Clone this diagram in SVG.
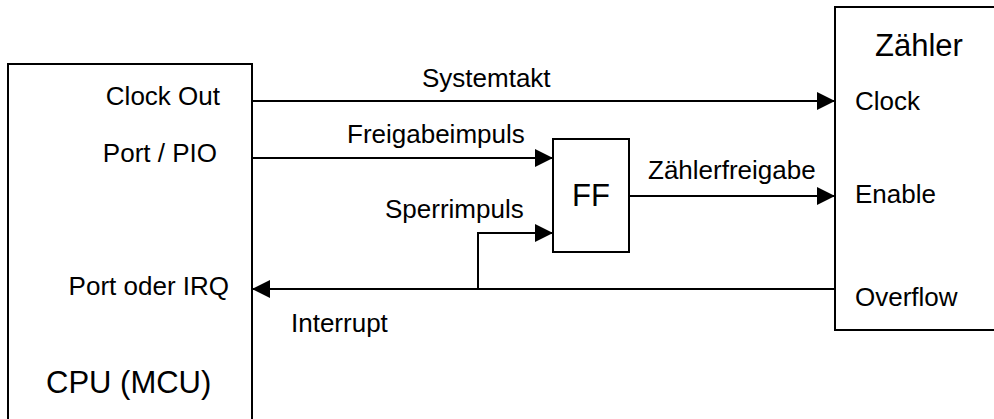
<svg xmlns="http://www.w3.org/2000/svg" width="994" height="419" viewBox="0 0 994 419">
<style>
.box{fill:#fff;stroke:#000;stroke-width:2}
.ln{fill:none;stroke:#000;stroke-width:2}
text{font-family:"Liberation Sans",Arial,sans-serif;font-size:26px;fill:#000}
.big{font-size:31px}
.e{text-anchor:end}
</style>
<defs>
<marker id="ah" markerUnits="userSpaceOnUse" markerWidth="18" markerHeight="18" refX="18" refY="9" orient="auto">
<path d="M0,0 L18,9 L0,18 z" fill="#000"/>
</marker>
</defs>
<rect width="994" height="419" fill="#fff"/>
<g id="cpu">
<rect class="box" x="8" y="64" width="244" height="380"/>
<text class="e" x="220" y="105">Clock Out</text>
<text class="e" x="217" y="162">Port / PIO</text>
<text class="e" x="229" y="295">Port oder IRQ</text>
<text class="big" x="46" y="393">CPU (MCU)</text>
</g>
<g id="zaehler">
<rect class="box" x="835" y="7" width="180" height="323"/>
<text class="big" x="875" y="56">Zähler</text>
<text x="855" y="110">Clock</text>
<text x="855" y="203">Enable</text>
<text x="855" y="306">Overflow</text>
</g>
<g id="ff">
<rect class="box" x="553" y="139" width="76" height="113"/>
<text class="big" x="591" y="206" text-anchor="middle">FF</text>
</g>
<g id="connectors">
<line class="ln" x1="252" y1="101" x2="835" y2="101" marker-end="url(#ah)"/>
<line class="ln" x1="252" y1="158" x2="553" y2="158" marker-end="url(#ah)"/>
<polyline class="ln" points="478,289 478,233 553,233" marker-end="url(#ah)"/>
<line class="ln" x1="629" y1="196" x2="835" y2="196" marker-end="url(#ah)"/>
<line class="ln" x1="835" y1="289" x2="252" y2="289" marker-end="url(#ah)"/>
<text x="422" y="87">Systemtakt</text>
<text x="347" y="143">Freigabeimpuls</text>
<text x="385" y="218">Sperrimpuls</text>
<text x="648" y="179">Zählerfreigabe</text>
<text x="291" y="332">Interrupt</text>
</g>
</svg>
